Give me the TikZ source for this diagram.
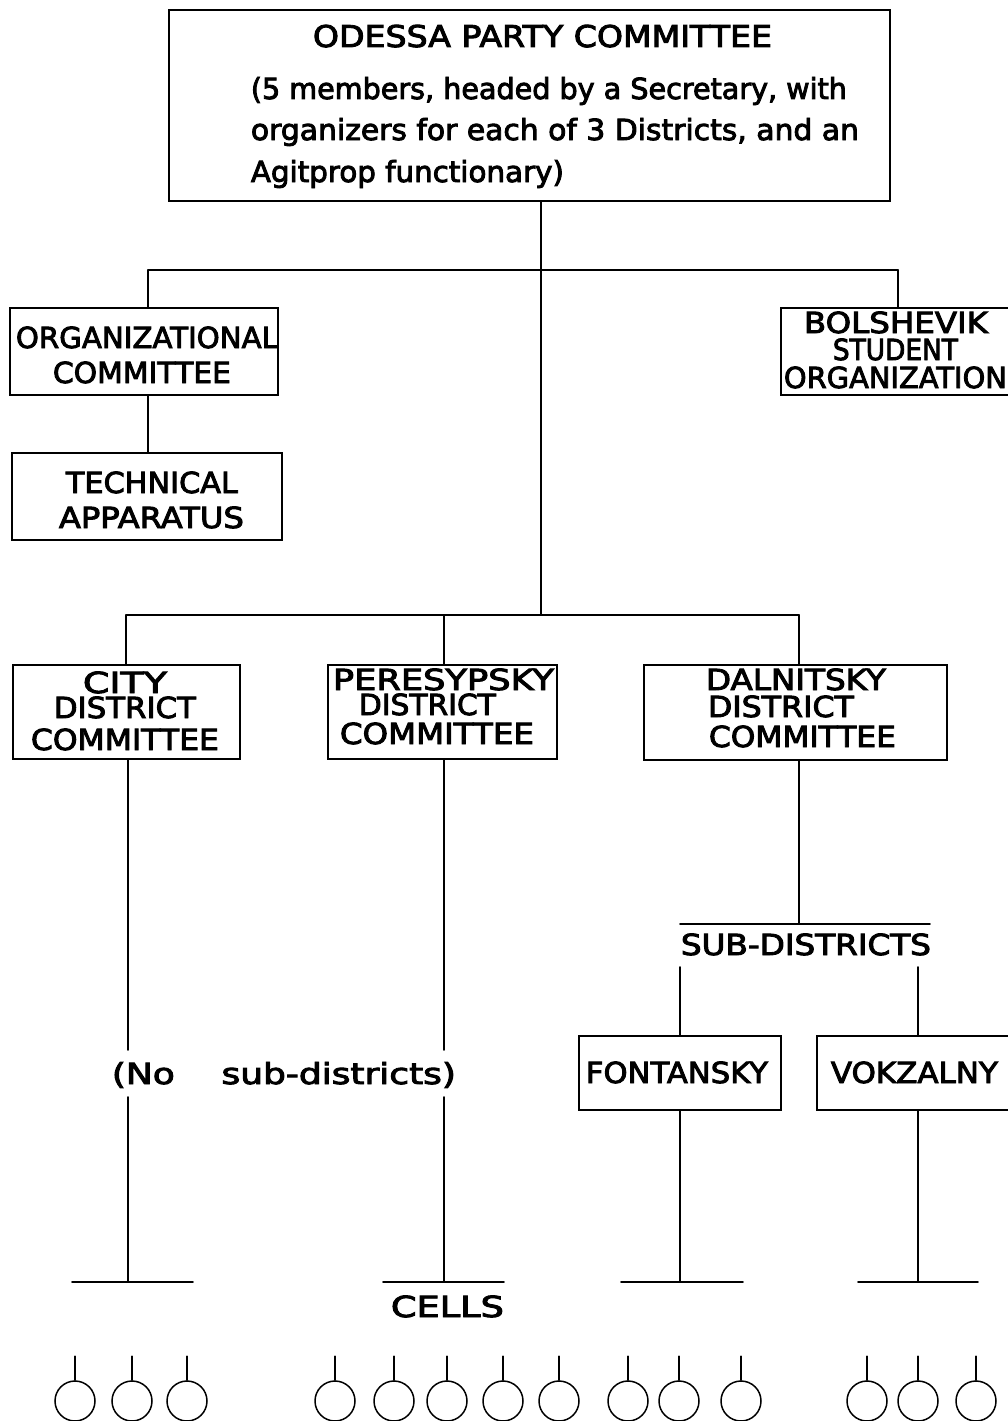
\documentclass[tikz,border=0pt]{standalone}
\usepackage{fontspec}
\setmainfont{DejaVu Sans}[FakeBold=3]
\usepackage{graphicx}
\newcommand{\fw}[2]{\resizebox{#1pt}{\height}{#2}}
\begin{document}
\begin{tikzpicture}[x=1pt,y=-1pt,line width=1.8pt,line cap=round,
  box/.style={draw,rectangle,inner sep=0pt,line width=1.5pt},
  lbl/.style={inner sep=0pt,anchor=base west,font=\fontsize{29}{30}\selectfont},
  captxt/.style={lbl,text height=19pt,text depth=0pt},
  cell/.style={circle,draw,minimum size=40pt,inner sep=0pt,line width=1.5pt}]
\useasboundingbox (0,0) rectangle (1008,1421);
% ---------- boxes
\node[box,minimum width=721pt,minimum height=191pt] (odessa) at (529.5,105.5) {};
\node[box,minimum width=268pt,minimum height=87pt] (org) at (144,351.5) {};
\node[box,minimum width=270pt,minimum height=87pt] (tech) at (147,496.5) {};
\node[box,minimum width=249pt,minimum height=87pt] (bol) at (905.5,351.5) {};
\node[box,minimum width=227pt,minimum height=94pt] (city) at (126.5,712) {};
\node[box,minimum width=229pt,minimum height=94pt] (pere) at (442.5,712) {};
\node[box,minimum width=303pt,minimum height=95pt] (dal) at (795.5,712.5) {};
\node[box,minimum width=202pt,minimum height=74pt] (font) at (680,1073) {};
\node[box,minimum width=223pt,minimum height=74pt] (vok) at (928.5,1073) {};
% ---------- texts
\node[lbl] (o0) at (312,47) {\fontsize{30}{30}\selectfont\fw{459}{ODESSA PARTY COMMITTEE}};
\node[lbl] (o1) at (250,99) {\fw{596}{(5 members, headed by a Secretary, with}};
\node[lbl] (o2) at (250,140) {\fw{608}{organizers for each of 3 Districts, and an}};
\node[lbl] (o3) at (250,182) {\fw{313}{Agitprop functionary)}};
\node[captxt] (g1) at (15,348) {\fw{262}{ORGANIZATIONAL}};
\node[captxt] (g2) at (52,383) {\fw{178}{COMMITTEE}};
\node[captxt] (h1) at (65,493) {\fw{172}{TECHNICAL}};
\node[captxt] (h2) at (58,528) {\fw{185}{APPARATUS}};
\node[captxt] (b1) at (803,333) {\fw{184}{BOLSHEVIK}};
\node[captxt] (b2) at (832,360) {\fw{125}{STUDENT}};
\node[captxt] (b3) at (783,388) {\fw{223}{ORGANIZATION}};
\node[captxt] (c1t) at (82,693) {\fw{84}{CITY}};
\node[captxt] (c2t) at (53,718) {\fw{142}{DISTRICT}};
\node[captxt] (c3t) at (30,750) {\fw{188}{COMMITTEE}};
\node[captxt] (p1) at (332,690) {\fw{221}{PERESYPSKY}};
\node[captxt] (p2) at (358,715) {\fw{137}{DISTRICT}};
\node[captxt] (p3) at (339,744) {\fw{194}{COMMITTEE}};
\node[captxt] (d1) at (705,690) {\fw{180}{DALNITSKY}};
\node[captxt] (d2) at (707,717) {\fw{146}{DISTRICT}};
\node[captxt] (d3) at (708,747) {\fw{187}{COMMITTEE}};
\node[captxt] (subd) at (680,955) {\fw{250}{SUB-DISTRICTS}};
\node[captxt] (f1) at (585,1083) {\fw{182}{FONTANSKY}};
\node[captxt] (v1) at (830,1083) {\fw{167}{VOKZALNY}};
\node[lbl] (nosub) at (111,1084) {\fw{344}{(No\hspace{1.3em}sub-districts)}};
\node[captxt] (cells) at (390,1317) {\fw{113}{CELLS}};
% ---------- coordinates
\coordinate (top) at (541,201);
\coordinate (busL) at (148,270);
\coordinate (busR) at (898,270);
\coordinate (dbusM) at (541,615);
\coordinate (dbusL) at (126,615);
\coordinate (dbusC) at (444,615);
\coordinate (dbusR) at (799,615);
\coordinate (subT) at (799,924);
\coordinate (subL) at (680,924);
\coordinate (subR) at (930,924);
\coordinate (sfL) at (680,967);
\coordinate (svR) at (918,967);
\coordinate (cityA) at (128,1050);
\coordinate (cityB) at (128,1097);
\coordinate (pereA) at (444,1050);
\coordinate (pereB) at (444,1097);
% ---------- connectors
\draw (top) -- (dbusM);
\draw (busL) -- (busR);
\draw (busL) -- (busL |- org.north);
\draw (busR) -- (busR |- bol.north);
\draw (busL |- org.south) -- (busL |- tech.north);
\draw (dbusL) -- (dbusR);
\draw (dbusL) -- (dbusL |- city.north);
\draw (dbusC) -- (dbusC |- pere.north);
\draw (dbusR) -- (dbusR |- dal.north);
\draw (dbusR |- dal.south) -- (subT);
\draw (subL) -- (subR);
\draw (sfL) -- (sfL |- font.north);
\draw (svR) -- (svR |- vok.north);
\draw (cityA |- city.south) -- (cityA);
\draw (pereA |- pere.south) -- (pereA);
% lower verticals and cell buses
\draw (cityB) -- (128,1282);
\draw (72,1282) -- (193,1282);
\draw (pereB) -- (444,1282);
\draw (383,1282) -- (504,1282);
\draw (sfL |- font.south) -- (680,1282);
\draw (621,1282) -- (743,1282);
\draw (svR |- vok.south) -- (918,1282);
\draw (858,1282) -- (978,1282);
% ---------- cells
\foreach \x [count=\i] in {75,132,187,335,394,447,503,559,628,679,741,867,918,976}{
  \node[cell] (cell\i) at (\x,1401) {};
  \draw (cell\i.north) -- ++(0,-24);
}
\end{tikzpicture}
\end{document}
